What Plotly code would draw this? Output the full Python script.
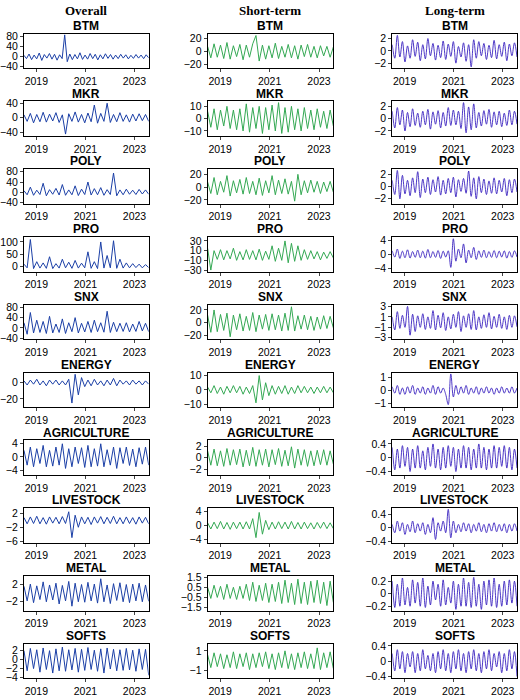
import pandas as pd
import plotly.graph_objects as go

names = ['BTM', 'MKR', 'POLY', 'PRO', 'SNX', 'ENERGY', 'AGRICULTURE', 'LIVESTOCK', 'METAL', 'SOFTS']
headers = ['Overall', 'Short-term', 'Long-term']

overall = {
    'BTM': [5,-8,10,-12,6,-9,14,-15,8,-6,12,-10,9,-14,7,-8,85,-20,10,-12,8,-9,15,-11,6,-10,12,-8,9,-13,7,-9,11,-7,8,-10,6,-8,9,-6,7,-9,5,-7,8,-6,6,-8,7,-5],
    'MKR': [8,-10,12,-14,9,-11,15,-12,10,-9,14,-13,8,-45,11,-10,16,-12,9,-14,13,-11,35,-15,12,-10,40,-13,9,-11,14,-10,8,-12,10,-9,11,-8,9,-10],
    'POLY': [6,-10,20,-12,8,-9,35,-14,10,-8,15,-11,30,-12,9,-10,25,-13,12,-9,40,-11,14,-10,18,-12,10,-9,75,-14,9,-10,12,-8,8,-9,11,-7,9,-8],
    'PRO': [10,-5,110,-8,20,-6,15,-7,40,-8,12,-6,30,-5,18,-7,25,-6,14,-5,60,-7,20,-8,100,-6,45,-5,105,-7,30,-6,15,-5,12,-4,10,-5,8,-4],
    'SNX': [20,-25,60,-20,30,-18,25,-22,45,-20,15,-18,35,-22,20,-15,40,-20,18,-16,25,-18,30,-15,20,-17,65,-18,22,-15,18,-14,20,-16,15,-14,25,-12,18,-15],
    'ENERGY': [2,-3,3,-2,4,-3,2,-4,3,-2,3,-3,2,-3,4,-25,10,-15,6,-5,3,-4,4,-3,2,-4,3,-3,5,-4,3,-2,2,-3,3,-2,2,-3,2,-2],
    'AGRICULTURE': [2,-2.5,3,-3,2.5,-2,3.5,-3,2,-2.8,3,-2.5,4,-3.5,2.5,-3,3,-2,2.8,-3.2,3.5,-3,2.5,-2.8,4,-3,2.2,-2.5,3,-3.5,2.8,-2,3,-2.6,2.4,-3,2.8,-2.2,3,-2.5],
    'LIVESTOCK': [0.8,-1,1,-0.9,1.2,-1,0.8,-1.1,1,-0.8,0.9,-1,1.1,-0.9,2.5,-5,1.5,-2,1,-1,0.9,-1.2,1,-0.8,1.1,-1,0.9,-0.9,1.2,-1,0.8,-1,1,-0.9,0.8,-1.1,1,-0.8,0.9,-1],
    'METAL': [1.5,-1.8,2,-2.2,1.6,-1.5,2.5,-2,1.8,-1.6,2.2,-2.5,1.7,-1.8,2.6,-3,2.2,-2,1.9,-2.1,2.4,-1.8,2,-2.3,3.2,-2,1.8,-2.4,2.1,-1.7,2.3,-2,1.9,-2.2,2,-1.8,2.2,-2,1.8,-1.9],
    'SOFTS': [2,-2.5,2.5,-2,2.2,-2.8,2.6,-2.2,2,-3,2.4,-2.5,2.8,-2.6,2.2,-2.3,2.5,-2.8,2.3,-2.4,2.7,-2.2,2.1,-2.6,2.4,-3,2.6,-2.1,2.3,-2.5,2.2,-2.4,2.5,-2.3,2.1,-2.6,2.4,-2.2,2.3,-3.5],
}

short_term = {
    'BTM': [8,-10,12,-9,10,-11,14,-12,9,-8,11,-13,10,-9,12,25,-15,10,-12,9,-10,13,-11,8,-9,11,-10,9,-12,10,-8,11,-9,8,-10,9,-7,8,-9,7],
    'MKR': [6,-7,8,-9,7,-6,10,-8,7,-9,8,-10,12,-11,9,-8,10,-12,9,-9,11,-10,13,-12,9,-11,10,-9,8,-10,9,-8,7,-9,8,-7,6,-8,7,-6],
    'POLY': [8,-10,15,-12,9,-8,18,-14,10,-9,12,-11,15,-10,9,-12,14,-13,10,-9,18,-12,11,-10,13,-11,9,-22,20,-12,10,-9,11,-8,9,-10,8,-7,9,-8],
    'PRO': [15,-30,10,-8,12,-9,10,-7,15,-10,8,-9,12,-8,10,-9,13,-10,9,-8,20,-12,15,-10,30,-15,25,-12,20,-10,12,-8,10,-7,8,-9,7,-6,8,-5],
    'SNX': [12,-15,20,-14,13,-12,15,-22,12,-11,14,-13,10,-12,16,-14,12,-10,13,-12,14,-11,12,-13,15,-12,25,-13,11,-10,12,-11,10,-12,9,-10,11,-9,10,-8],
    'ENERGY': [2,-2,3,-2.5,2,-3,2.5,-2,3,-2,2.5,-3,2,-2.5,3,-9,10,-7,5,-4,3,-3,2.5,-2.5,3,-3,2,-2.5,3,-2,2.5,-2,2,-2.5,2,-2,2.5,-2,2,-2],
    'AGRICULTURE': [1.2,-1.3,1.5,-1.4,1.2,-1.5,1.6,-1.3,1.4,-1.2,1.5,-1.6,1.3,-1.4,1.8,-1.5,1.4,-1.3,1.5,-1.6,1.4,-1.2,1.6,-1.5,1.3,-1.4,1.9,-1.8,1.5,-1.3,1.4,-1.5,1.2,-1.4,1.3,-1.2,1.4,-1.3,1.2,-1.1],
    'LIVESTOCK': [0.8,-1,1,-0.9,1.2,-1,0.9,-1.1,1,-0.9,1,-1,1.1,-1,2,-3.5,3.8,-2.5,1.5,-1.2,1,-1,1.1,-0.9,1,-1,1.2,-1,0.9,-1,1,-0.9,0.8,-1,0.9,-0.8,1,-0.9,0.8,-0.9],
    'METAL': [0.5,-0.6,0.7,-0.5,0.6,-0.7,0.8,-0.6,0.5,-0.7,0.6,-0.6,0.8,-0.8,1,-0.9,0.7,-0.8,0.9,-1,0.8,-0.9,1,-1.1,1.2,-1,0.9,-1.2,1.3,-1.1,1,-1.2,1.1,-1,1.2,-1.1,1,-1.3,1.1,-1],
    'SOFTS': [0.6,-0.7,0.8,-0.6,0.7,-0.8,0.6,-0.7,0.9,-0.8,0.7,-0.6,0.8,-0.9,0.7,-0.7,0.8,-0.6,0.9,-0.8,0.7,-0.9,0.8,-0.7,1,-0.8,0.7,-0.9,0.8,-0.7,0.9,-0.8,0.7,-0.8,1.3,-0.9,0.8,-0.7,0.9,-0.8],
}

long_term = {
    'BTM': [1,-1.2,2.5,-1,1.5,-1.8,0.8,-1.2,1.8,-0.9,1.4,-1.6,1.0,-1.3,2.0,-0.8,1.2,-1.5,0.9,-1.1,1.6,-1.4,1.1,-0.9,1.5,-2.0,0.7,-1.0,1.3,-1.7,1.0,-2.6,1.8,-1.2,1.5,-0.8,1.2,-1.4,0.9,-1.1,1.7,-1.3,1.0,-0.9,1.4,-1.6,1.1,-0.8,1.3,-1.0],
    'MKR': [1.2,-1.5,1.8,-1.0,1.4,-2.0,1.0,-1.3,1.6,-1.1,0.9,-1.4,1.2,-1.0,1.5,-1.7,1.1,-0.9,1.3,-1.5,1.0,-1.2,1.8,-1.1,1.4,-1.0,1.2,-1.6,2.6,-2.3,1.9,-1.8,2.4,-1.5,1.0,-1.2,1.3,-0.9,1.5,-1.4,1.1,-1.0,1.2,-1.3,0.9,-1.1,1.4,-1.0,1.2,-0.9],
    'POLY': [1.0,-1.3,2.6,-2.0,1.8,-1.2,1.0,-1.5,1.4,-1.0,2.4,-1.8,1.2,-1.0,1.5,-1.3,1.1,-0.9,1.6,-1.4,1.0,-1.2,1.3,-1.0,1.5,-1.7,1.1,-0.8,1.3,-1.1,2.5,-1.6,1.4,-2.0,1.6,-1.0,1.2,-1.3,0.9,-1.1,1.4,-1.2,1.0,-0.9,1.3,-1.5,1.1,-1.0,1.2,-0.9],
    'PRO': [1.0,-0.8,1.5,-1.2,0.9,-1.0,1.3,-1.1,0.8,-0.9,1.2,-1.0,0.9,-1.1,1.4,-1.0,0.8,-0.9,1.1,-1.2,0.9,-0.8,1.0,-3.8,4.5,-2.0,1.5,-1.0,3.0,-2.5,1.2,-1.0,2.0,-1.5,1.0,-0.9,1.2,-1.0,0.8,-0.9,1.1,-1.0,0.9,-0.8,1.0,-1.1,0.8,-0.9,1.0,-0.8],
    'SNX': [1.0,-1.5,2.0,-1.2,1.3,-1.0,3.0,-2.5,1.5,-1.8,1.2,-1.0,1.6,-1.4,1.0,-1.2,2.2,-1.5,1.3,-1.1,1.8,-1.6,1.0,-1.3,1.5,-1.0,2.0,-1.8,1.2,-1.0,1.6,-1.4,2.2,-1.5,1.0,-1.2,1.4,-1.0,1.8,-1.3,1.1,-1.0,1.5,-1.2,1.0,-1.4,1.3,-1.0,1.2,-0.9],
    'ENERGY': [0.3,-0.2,0.4,-0.3,0.2,-0.3,0.3,-0.2,0.4,-0.3,0.2,-0.2,0.3,-0.3,0.2,-0.2,0.4,-0.3,0.3,-0.2,0.2,-0.3,-1.1,1.3,-0.5,0.4,-0.3,0.3,-0.2,0.4,-0.3,0.2,-0.2,0.3,-0.3,0.2,-0.2,0.3,-0.2,0.2,-0.3,0.2,-0.2,0.3,-0.2,0.2,-0.2,0.3,-0.2,0.2],
    'AGRICULTURE': [0.3,-0.35,0.25,-0.3,0.35,-0.25,0.3,-0.4,0.25,-0.3,0.35,-0.3,0.2,-0.35,0.3,-0.25,0.4,-0.3,0.25,-0.35,0.3,-0.3,0.35,-0.25,0.3,-0.4,0.25,-0.3,0.35,-0.3,0.3,-0.35,0.25,-0.3,0.4,-0.3,0.3,-0.35,0.25,-0.3,0.35,-0.3,0.3,-0.25,0.35,-0.3,0.3,-0.35,0.25,-0.3],
    'LIVESTOCK': [0.1,-0.15,0.2,-0.1,0.15,-0.2,0.1,-0.12,0.2,-0.15,0.12,-0.1,0.15,-0.2,0.1,-0.15,0.3,-0.35,0.15,-0.1,0.2,-0.15,0.55,-0.3,0.2,-0.15,0.1,-0.12,0.15,-0.1,0.12,-0.15,0.1,-0.1,0.15,-0.12,0.1,-0.15,0.12,-0.1,0.15,-0.12,0.1,-0.1,0.12,-0.15,0.1,-0.1,0.12,-0.1],
    'METAL': [0.2,-0.22,0.15,-0.2,0.25,-0.18,0.1,-0.2,0.22,-0.15,0.18,-0.2,0.25,-0.22,0.12,-0.18,0.2,-0.1,0.15,-0.2,0.22,-0.18,0.1,-0.15,0.2,-0.25,0.15,-0.2,0.25,-0.2,0.18,-0.22,0.26,-0.2,0.15,-0.25,0.2,-0.18,0.22,-0.2,0.25,-0.22,0.15,-0.2,0.2,-0.18,0.22,-0.15,0.2,-0.2],
    'SOFTS': [0.2,-0.25,0.3,-0.2,0.25,-0.3,0.2,-0.15,0.25,-0.3,0.2,-0.25,0.3,-0.2,0.15,-0.25,0.2,-0.3,0.25,-0.2,0.3,-0.25,0.2,-0.3,0.25,-0.2,0.3,-0.25,0.2,-0.3,0.25,-0.2,0.3,-0.25,0.2,-0.3,0.25,-0.2,0.3,-0.25,0.2,-0.15,0.25,-0.3,0.2,-0.25,0.3,-0.2,0.25,-0.4],
}

# y ranges and tick values per column
overall_axes = {
    'BTM': ([-45, 90], [80, 40, 0, -40]), 'MKR': ([-50, 45], [40, 0, -40]),
    'POLY': ([-45, 90], [80, 40, 0, -40]), 'PRO': ([-20, 120], [100, 50, 0]),
    'SNX': ([-45, 90], [80, 40, 0, -40]), 'ENERGY': ([-30, 12], [0, -20]),
    'AGRICULTURE': ([-5.5, 5], [4, 0, -4]), 'LIVESTOCK': ([-6.5, 3.5], [2, -2, -6]),
    'METAL': ([-4, 3.8], [2, -2]), 'SOFTS': ([-4.2, 3.5], [2, 0, -2, -4]),
}
short_axes = {
    'BTM': ([-26, 28], [20, 0, -20]), 'MKR': ([-14, 14], [10, 0, -10]),
    'POLY': ([-26, 28], [20, 0, -20]), 'PRO': ([-33, 38], [30, 10, -10, -30]),
    'SNX': ([-26, 28], [20, 0, -20]), 'ENERGY': ([-12, 12], [10, 0, -10]),
    'AGRICULTURE': ([-3, 3], [2, 0, -2]), 'LIVESTOCK': ([-5, 5], [4, 0, -4]),
    'METAL': ([-1.8, 1.6], [1.5, 0.5, -0.5, -1.5]), 'SOFTS': ([-1.8, 1.7], [1, -1]),
}
long_axes = {
    'BTM': ([-2.8, 2.8], [2, 0, -2]), 'MKR': ([-2.8, 2.8], [2, 0, -2]),
    'POLY': ([-2.8, 2.8], [2, 0, -2]), 'PRO': ([-5, 5], [4, 0, -4]),
    'SNX': ([-3.3, 3.3], [3, 1, -1, -3]), 'ENERGY': ([-1.3, 1.4], [1.0, 0.0, -1.0]),
    'AGRICULTURE': ([-0.5, 0.5], [0.4, 0.0, -0.4]), 'LIVESTOCK': ([-0.45, 0.58], [0.4, 0.0, -0.4]),
    'METAL': ([-0.27, 0.28], [0.2, 0.0, -0.2]), 'SOFTS': ([-0.45, 0.45], [0.4, 0.0, -0.4]),
}

columns = [(overall, overall_axes, '#1b3fa6', 'linear', 1),
           (short_term, short_axes, '#34a853', 'linear', 1),
           (long_term, long_axes, '#3a22c0', 'spline', 0.9)]

W, H = 520, 700
col_px = [(23, 148), (207, 333), (392, 517)]
start, end = '2018-07-01', '2023-08-01'

fig = go.Figure()
layout = {}
n = 0
for c, (series, axes, color, shape, lw) in enumerate(columns):
    cx = sum(col_px[c]) / 2 / W
    for r, name in enumerate(names):
        n += 1
        vals = series[name]
        x = pd.date_range(start, end, periods=len(vals))
        fig.add_trace(go.Scatter(x=x, y=vals, mode='lines', line=dict(color=color, width=lw, shape=shape),
                                 xaxis=f'x{n}', yaxis=f'y{n}', showlegend=False))
        top = 29 + 68.8 * r
        bot = top + 35
        yr, yt = axes[name]
        layout[f'xaxis{n}'] = dict(domain=[col_px[c][0] / W, col_px[c][1] / W], anchor=f'y{n}',
                                   range=[start, end], tickvals=['2019-01-01', '2021-01-01', '2023-01-01'],
                                   ticktext=['2019', '2021', '2023'], ticks='outside', ticklen=3,
                                   showline=True, mirror=True, linecolor='black', linewidth=1,
                                   showgrid=False, zeroline=False)
        layout[f'yaxis{n}'] = dict(domain=[1 - bot / H, 1 - top / H], anchor=f'x{n}', range=yr,
                                   tickvals=yt, ticks='outside', ticklen=3,
                                   showline=True, mirror=True, linecolor='black', linewidth=1,
                                   showgrid=False, zeroline=False)
        fig.add_annotation(x=cx, y=1 - (top - 8) / H, xref='paper', yref='paper',
                           xanchor='center', yanchor='middle',
                           text=f'<b>{name}</b>', showarrow=False,
                           font=dict(size=12, family='Liberation Sans', color='black'))
    fig.add_annotation(x=cx, y=1 - 6 / H, xref='paper', yref='paper',
                       xanchor='center', yanchor='middle',
                       text=f'<b>{headers[c]}</b>', showarrow=False,
                       font=dict(size=13, family='Liberation Serif', color='black'))

fig.update_layout(**layout)
fig.update_layout(width=W, height=H, margin=dict(l=0, r=0, t=0, b=0),
                  plot_bgcolor='white', paper_bgcolor='white',
                  font=dict(family='Liberation Sans', size=10.5, color='black'))

fig.write_html('out.html', config={'displayModeBar': False},
               post_script="document.body.style.margin='0';")
